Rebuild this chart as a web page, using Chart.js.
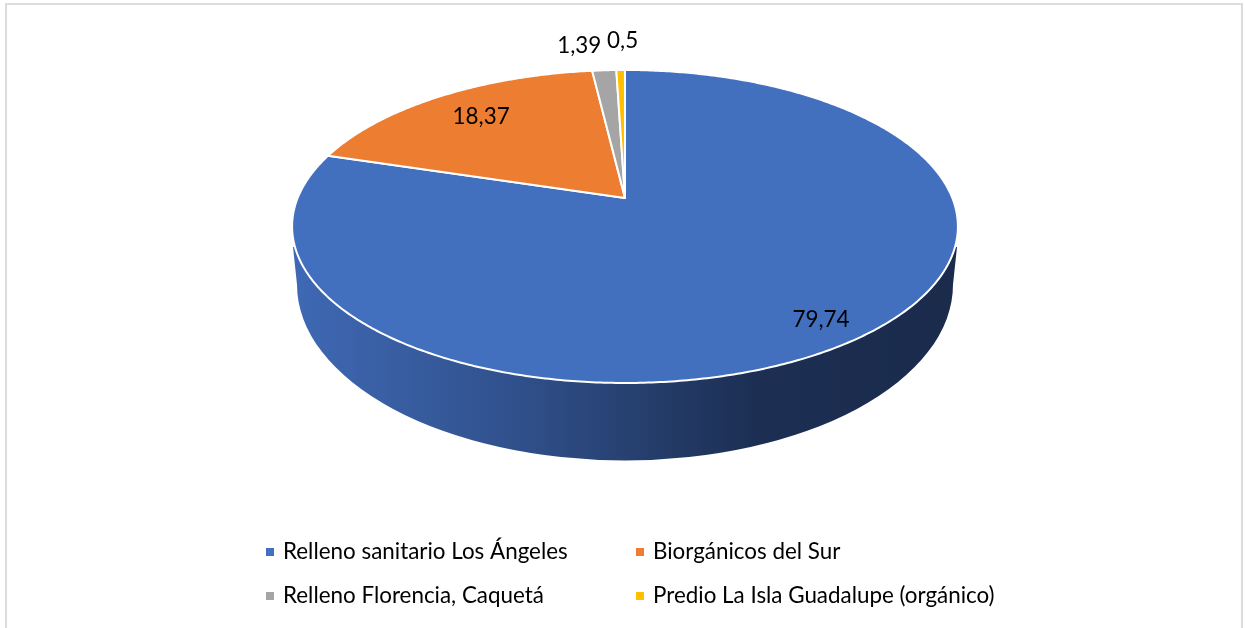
<!DOCTYPE html>
<html>
<head>
<meta charset="utf-8">
<style>
  html, body { margin: 0; padding: 0; background: #fff; }
  #wrap { position: relative; width: 1245px; height: 628px; overflow: hidden; }
  #frame { position: absolute; left: 5px; top: 3px; width: 1238px; height: 640px; border: 2px solid #dcdcdc; box-sizing: border-box; }
</style>
<script src="https://cdn.jsdelivr.net/npm/chart.js@4"></script>
</head>
<body>
<div id="wrap">
  <div id="frame"></div>
  <canvas id="pieChart" width="1245" height="628" style="position:absolute;left:0;top:0"></canvas>
</div>
<script>
const categories = ['Relleno sanitario Los Ángeles', 'Biorgánicos del Sur', 'Relleno Florencia, Caquetá', 'Predio La Isla Guadalupe (orgánico)'];
const sliceValues = [79.74, 18.37, 1.39, 0.5];
const sliceColors = ['#4270BF', '#EC7D31', '#A5A5A5', '#FFC000'];

const FONT = 'Lato, "Open Sans", sans-serif';

// tilt of the pie plane: rim point (u,v) on the unit circle goes to the screen like this
const TILT = { k: -0.182, sx: 0.983, sy: 0.4544 };

function project(arc, angle, f) {
    const u = Math.cos(angle) * f, v = Math.sin(angle) * f;
    const w = 1 + TILT.k * v;
    return {
        x: arc.x + arc.outerRadius * TILT.sx * u / w,
        y: arc.y + arc.outerRadius * TILT.sy * v / w
    };
}

function drawWall(ctx, arc) {
    const r = arc.outerRadius;
    const cx = arc.x;
    const lowY = arc.y + r * 0.26;   // centre of lower rim
    const lowRx = r * 0.985, lowRy = r * 0.528;
    const grad = ctx.createLinearGradient(cx - r, 0, cx + r, 0);
    grad.addColorStop(0, '#3f69b5');
    grad.addColorStop(0.34, '#30508b');
    grad.addColorStop(0.52, '#263f6e');
    grad.addColorStop(0.70, '#1c2e52');
    grad.addColorStop(1, '#1a2b4c');
    ctx.beginPath();
    ctx.moveTo(cx - r + 1, arc.y + 49);
    ctx.lineTo(cx - lowRx, lowY);
    ctx.ellipse(cx, lowY, lowRx, lowRy, 0, Math.PI, 0, true);
    ctx.lineTo(cx + r - 1, arc.y + 49);
    ctx.closePath();
    ctx.fillStyle = grad;
    ctx.fill();
}

function drawSlice(ctx, arc, color) {
    const steps = Math.max(4, Math.ceil((arc.endAngle - arc.startAngle) / 0.01));
    ctx.beginPath();
    ctx.moveTo(arc.x, arc.y);
    for (let i = 0; i <= steps; i++) {
        const a = arc.startAngle + (arc.endAngle - arc.startAngle) * i / steps;
        const p = project(arc, a, 1);
        ctx.lineTo(p.x, p.y);
    }
    ctx.closePath();
    ctx.fillStyle = color;
    ctx.fill();
    ctx.lineWidth = 2;
    ctx.lineJoin = 'round';
    ctx.strokeStyle = '#fff';
    ctx.stroke();
}

const pie3d = {
    id: 'pie3d',
    // the library has laid out the arcs, they are only painted tilted here
    beforeDatasetDraw(chart, args) {
        const ctx = chart.ctx;
        const arcs = args.meta.data;
        ctx.save();
        drawWall(ctx, arcs[0]);
        arcs.forEach((arc, i) => drawSlice(ctx, arc, sliceColors[i]));
        ctx.restore();
        return false;
    },
    afterDraw(chart) {
        const ctx = chart.ctx;
        const arcs = chart.getDatasetMeta(0).data;
        const placing = [
            { f: 0.87, dx: 2, dy: 0 },
            { f: 0.77, dx: 2, dy: 0 },
            { f: 1, dx: -25, dy: -25 },
            { f: 1, dx: 2, dy: -29 }
        ];
        ctx.save();
        ctx.fillStyle = '#000';
        ctx.font = '22.4px ' + FONT;
        ctx.textAlign = 'center';
        ctx.textBaseline = 'middle';
        arcs.forEach((arc, i) => {
            const mid = (arc.startAngle + arc.endAngle) / 2;
            const p = project(arc, mid, placing[i].f);
            ctx.fillText(String(sliceValues[i]).replace('.', ','), p.x + placing[i].dx, p.y + placing[i].dy);
        });

        // two column legend, the built-in one can not line up its columns
        const colX = [266, 636], rowY = [552, 596];
        ctx.textAlign = 'left';
        categories.forEach((name, i) => {
            const x = colX[i % 2], y = rowY[Math.floor(i / 2)];
            ctx.fillStyle = sliceColors[i];
            ctx.fillRect(x, y - 4, 8, 8);
            ctx.fillStyle = '#000';
            ctx.fillText(name, x + 17, y);
        });
        ctx.restore();
    }
};

new Chart(document.getElementById('pieChart'), {
    type: 'pie',
    data: {
        labels: categories,
        datasets: [{ data: sliceValues, backgroundColor: sliceColors, borderColor: '#fff', borderWidth: 1 }]
    },
    options: {
        responsive: false,
        animation: false,
        radius: 333,
        layout: { padding: { left: 5, bottom: 232 } },
        plugins: { legend: { display: false }, tooltip: { enabled: false }, title: { display: false } }
    },
    plugins: [pie3d]
});
</script>
</body>
</html>
